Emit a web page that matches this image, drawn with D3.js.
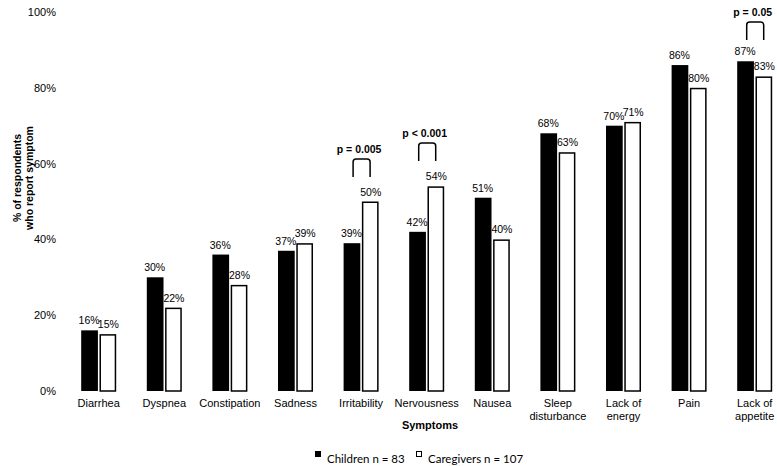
<!DOCTYPE html>
<html><head><meta charset="utf-8">
<script src="https://cdn.jsdelivr.net/npm/d3@7"></script>
<style>body{margin:0;background:#fff}svg{display:block}text{font-family:"Liberation Sans",Arial,sans-serif;fill:#000}</style>
</head><body><svg id="c" width="777" height="466"></svg>
<script>
const categories = [["Diarrhea"],["Dyspnea"],["Constipation"],["Sadness"],["Irritability"],["Nervousness"],["Nausea"],["Sleep","disturbance"],["Lack of","energy"],["Pain"],["Lack of","appetite"]];
const children = [16,30,36,37,39,42,51,68,70,86,87];
const caregivers = [15,22,28,39,50,54,40,63,71,80,83];
const yTicks = [0,20,40,60,80,100];
const pValues = [{cat:4,label:"p = 0.005",top:159},{cat:5,label:"p < 0.001",top:143},{cat:10,label:"p = 0.05",top:22}];
const seriesNames = ["Children n = 83","Caregivers n = 107"];

const svg = d3.select("#c");
const keys = categories.map((c,i)=>i);
const x = d3.scalePoint().domain(keys).range([98.7,754.7]);
const xs = d3.scaleBand().domain(["c","g"]).range([-17.5,17.5]).paddingInner(3/35);
const y = d3.scaleLinear().domain([0,100]).range([391,12]);

// y axis labels
svg.append("g").selectAll("text").data(yTicks).join("text")
  .attr("x",56).attr("y",d=>y(d)+4).attr("text-anchor","end")
  .attr("font-size",11).text(d=>d+"%");

// y title
const yt = svg.append("text").attr("transform","translate(21,178) rotate(-90)")
  .attr("text-anchor","middle").attr("font-size",10.5).attr("font-weight","bold");
yt.append("tspan").attr("x",0).attr("y",0).text("% of respondents");
yt.append("tspan").attr("x",0).attr("y",11.5).text("who report symptom");

// bars
const g = svg.append("g");
keys.forEach(i=>{
  const cx = x(i);
  g.append("rect").attr("x",cx+xs("c")).attr("width",xs.bandwidth())
    .attr("y",y(children[i])).attr("height",y(0)-y(children[i])).attr("fill","#000");
  g.append("rect").attr("x",cx+xs("g")+0.75).attr("width",xs.bandwidth()-1.5)
    .attr("y",y(caregivers[i])+0.75).attr("height",y(0)-y(caregivers[i])-0.75)
    .attr("fill","#fff").attr("stroke","#000").attr("stroke-width",1.5);
  g.append("text").attr("x",cx+xs("c")+xs.bandwidth()/2-0.5).attr("y",y(children[i])-6)
    .attr("text-anchor","middle").attr("font-size",10.5).text(children[i]+"%");
  g.append("text").attr("x",cx+xs("g")+xs.bandwidth()/2+0.5).attr("y",y(caregivers[i])-6)
    .attr("text-anchor","middle").attr("font-size",10.5).text(caregivers[i]+"%");
  // x labels
  const t = g.append("text").attr("x",cx).attr("y",407).attr("text-anchor","middle").attr("font-size",11);
  categories[i].forEach((l,j)=>t.append("tspan").attr("x",cx).attr("dy",j?13:0).text(l));
});

// p-value brackets
pValues.forEach(p=>{
  const cx = x(p.cat), l = cx-8, r = cx+9, t = p.top, b = t+18, rr = 3;
  svg.append("path").attr("d",`M${l},${b}V${t+rr}Q${l},${t} ${l+rr},${t}H${r-rr}Q${r},${t} ${r},${t+rr}V${b}`)
    .attr("fill","none").attr("stroke","#000").attr("stroke-width",1.5);
  svg.append("text").attr("x",cx-2).attr("y",t-6).attr("text-anchor","middle")
    .attr("font-size",10.5).attr("font-weight","bold").text(p.label);
});

// x title
svg.append("text").attr("x",430).attr("y",429).attr("text-anchor","middle")
  .attr("font-size",11).attr("font-weight","bold").text("Symptoms");

// legend
const lg = svg.append("g");
[[315,"#000"],[416,"#fff"]].forEach((d,i)=>{
  lg.append("rect").attr("x",d[0]+0.5).attr("y",451.5).attr("width",5).attr("height",5)
    .attr("fill",d[1]).attr("stroke","#000").attr("stroke-width",1);
  lg.append("text").attr("x",d[0]+12).attr("y",463).attr("font-size",11.5)
    .style("font-family","Lato, 'Open Sans', sans-serif").text(seriesNames[i]);
});
</script></body></html>
